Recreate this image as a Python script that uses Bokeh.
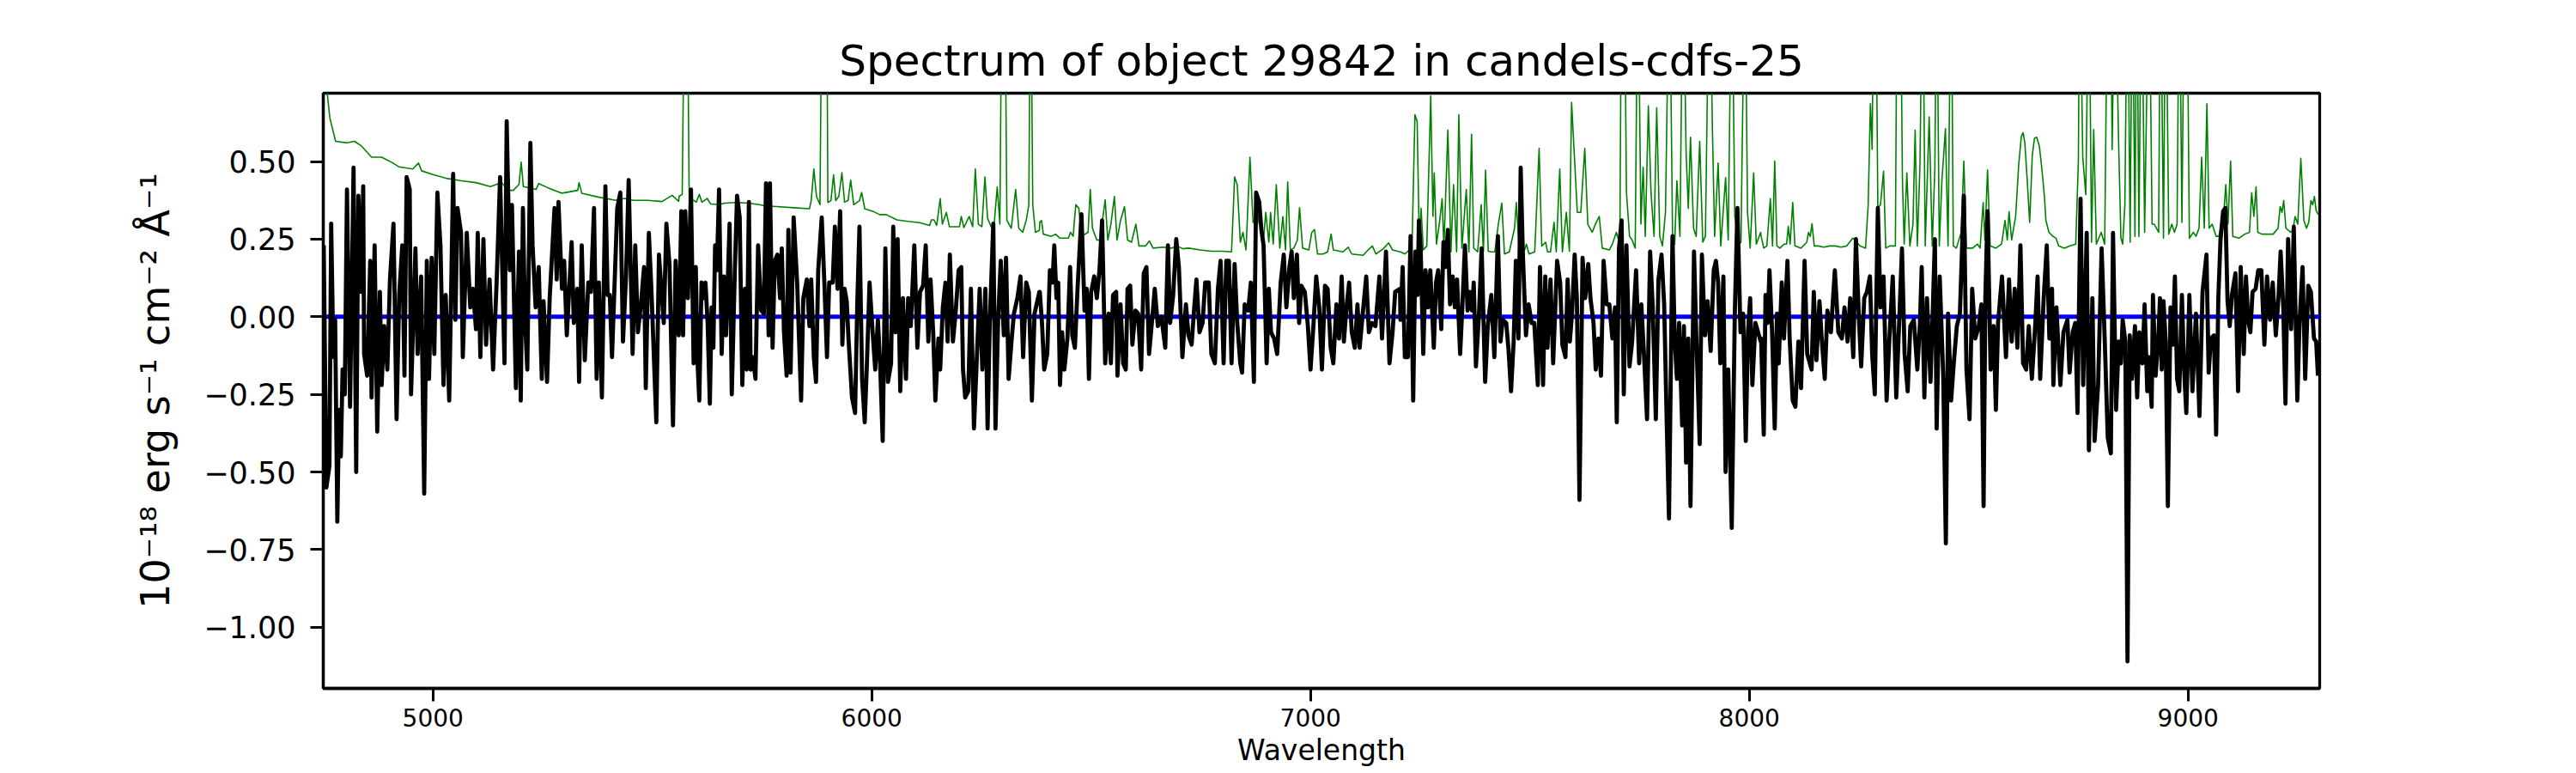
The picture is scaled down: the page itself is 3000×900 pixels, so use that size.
from bokeh.plotting import figure
from bokeh.models import Range1d, FixedTicker, CustomJSTickFormatter, Span
from bokeh.embed import file_html
from bokeh.resources import INLINE

# ---------------- data ----------------
title_text = "Spectrum of object 29842 in candels-cdfs-25"
x_label = "Wavelength"
y_label = "10\u207b\u00b9\u2078 erg s\u207b\u00b9 cm\u207b\u00b2 \u00c5\u207b\u00b9"
x_ticks = [5000, 6000, 7000, 8000, 9000]
y_ticks = [-1.0, -0.75, -0.5, -0.25, 0.0, 0.25, 0.5]
x_limits = [4750, 9300]
y_limits = [-1.197, 0.72]
zero_level = 0.0

# flux (black)
flux_wave_1 = [4751,4757,4764,4768,4773,4777,4782,4786,4790,4794,
    4799,4804,4811,4819,4825,4830,4836,4841,4843,4850,
    4857,4860,4867,4873,4879,4883,4889,4896,4902,4910,
    4917,4923,4930,4935,4940,4947,4950,4960,4965,4973,
    4980,4986,4991,4997,5003,5010,5017,5024,5029,5037,
    5046,5051,5056,5064,5068,5077,5085,5091,5098,5102,
    5108,5115,5121,5129,5137,5145,5153,5163,5168,5175,
    5180,5189,5196,5200,5205,5210,5215,5222,5227,5234,
    5241,5248,5252,5260,5266,5277,5282,5286,5294,5299,
    5305,5316,5321,5329,5333,5339,5346,5354,5360,5367,
    5373,5378,5385,5393,5398,5403,5408,5420,5427,5433,
    5440,5446,5455,5461,5467,5474,5481,5485,5492,5498,
    5509,5515,5521,5526,5532,5539,5547,5553,5560]
flux_1 = [0.23,-0.55,-0.48,0.30,-0.13,-0.01,-0.66,-0.30,-0.45,-0.17,
    -0.25,0.41,-0.29,0.48,-0.50,0.39,0.08,0.42,-0.12,-0.19,
    0.18,-0.26,0.23,-0.37,0.08,-0.22,-0.03,-0.17,0.12,0.30,
    -0.33,0.07,0.23,-0.19,0.45,0.41,-0.25,0.22,-0.12,0.13,
    -0.57,0.18,-0.20,0.19,-0.12,0.40,0.23,-0.22,0.07,-0.27,
    0.46,-0.01,0.35,0.27,-0.13,0.27,0.03,0.09,-0.04,0.27,
    -0.13,0.25,-0.09,0.12,-0.17,0.11,0.45,-0.15,0.63,0.15,
    0.36,-0.23,0.21,-0.27,0.35,-0.02,-0.17,0.56,0.23,0.03,
    0.16,-0.20,0.05,-0.21,0.06,0.35,0.12,0.37,0.09,0.18,
    -0.06,0.24,-0.02,0.09,-0.21,0.23,-0.14,0.11,0.08,0.35,
    -0.20,0.11,-0.26,0.42,0.07,0.07,-0.13,0.35,0.40,-0.08,
    0.13,0.44,-0.12,0.23,-0.05,0.04,0.16,-0.23,0.27,0.08,
    -0.34,0.20,0.08,-0.02,0.30,0.17,-0.35,0.18,-0.06]

flux_wave_2 = [5561,5566,5570,5575,5581,5588,5594,5599,5603,5607,
    5612,5617,5621,5626,5631,5635,5639,5643,5647,5652,
    5658,5663,5668,5676,5681,5688,5693,5699,5705,5711,
    5715,5720,5724,5729,5735,5741,5748,5754,5759,5765,
    5768,5774,5779,5785,5791,5795,5800,5806,5810,5815,
    5822,5830,5839,5844,5852,5858,5862,5868,5873,5878,
    5886,5892,5898,5903,5911,5916,5922,5928,5933,5938,
    5943,5947,5955,5962,5967,5972,5978,5984,5989,5995,
    6002,6008,6014,6019,6025,6031,6037,6044,6049,6054,
    6059,6065,6071,6078,6083,6089,6097,6104,6110,6117,
    6123,6129,6134,6140,6145,6152,6156,6162,6168,6173,
    6178,6185,6191,6198,6204,6208,6213,6220,6226,6233,
    6239,6246,6252,6259,6264,6269,6277,6282,6288,6294,
    6301,6306,6312,6319,6324,6332,6339,6345,6352,6358,
    6365,6371,6382]
flux_2 = [-0.01,0.34,-0.06,0.34,0.06,0.41,-0.15,0.16,-0.15,-0.27,
    0.11,0.06,0.11,-0.02,-0.28,0.03,-0.10,0.23,0.15,0.41,
    -0.12,0.13,-0.06,0.30,-0.25,0.15,0.39,0.32,-0.22,0.09,
    -0.17,0.37,-0.17,-0.13,-0.20,0.23,0.02,0.01,0.43,-0.06,
    0.43,-0.10,0.18,0.20,0.06,0.22,-0.05,-0.19,0.28,-0.18,
    0.32,0.11,-0.27,0.06,0.12,-0.03,0.12,-0.13,-0.21,0.15,
    0.32,0.11,-0.13,0.11,0.11,0.29,0.09,0.34,-0.09,0.09,
    0.05,-0.07,-0.26,-0.31,0.04,0.29,-0.20,-0.34,-0.15,0.11,
    -0.05,-0.17,-0.01,-0.15,-0.40,0.22,-0.21,-0.15,0.29,-0.05,
    0.25,-0.24,0.06,-0.20,0.06,-0.03,0.23,-0.10,0.08,0.10,
    0.23,-0.08,0.12,-0.05,-0.27,-0.07,-0.17,0.03,0.11,-0.08,
    0.20,-0.08,0.01,0.15,0.16,-0.17,-0.26,-0.24,0.09,-0.36,
    -0.15,0.09,-0.17,0.09,-0.36,-0.02,0.30,-0.36,-0.01,0.18,
    -0.06,0.19,-0.20,-0.07,0.01,0.06,0.13,-0.13,0.11,0.08,
    -0.27,0.01,0.08]

flux_wave_3 = [6383,6388,6393,6400,6406,6412,6416,6421,6425,6429,
    6434,6439,6446,6452,6457,6463,6469,6478,6485,6490,
    6495,6500,6507,6513,6519,6525,6532,6540,6545,6550,
    6557,6560,6567,6573,6579,6583,6589,6594,6601,6607,
    6614,6620,6626,6632,6639,6645,6652,6660,6669,6675,
    6680,6687,6694,6700,6708,6716,6722,6729,6735,6740,
    6747,6754,6760,6768,6774,6782,6789,6795,6802,6808,
    6814,6820,6827,6833,6840,6844,6850,6858,6864,6871,
    6876,6883,6888,6893,6900,6905,6910,6917,6924,6932,
    6939,6945,6952,6957,6962,6969,6974,6979,6987,6994,
    7000,7007,7013,7020,7026,7033,7039,7046,7052,7059,
    7065,7071,7076,7082,7088,7094,7101,7107,7112,7119,
    7127,7133,7140,7148,7157,7163,7172,7180,7187,7193,
    7204]
flux_3 = [0.08,-0.02,-0.17,-0.12,0.15,0.11,0.23,0.06,0.11,-0.22,
    -0.05,-0.17,-0.07,0.16,-0.06,-0.10,0.09,0.33,0.02,0.09,
    -0.20,0.08,0.13,0.06,0.15,0.31,-0.15,0.01,-0.15,0.07,
    0.08,-0.19,0.04,-0.15,-0.17,0.09,0.10,-0.09,0.02,0.01,
    -0.17,0.14,0.16,-0.12,-0.01,0.09,-0.03,0.00,-0.10,0.23,
    -0.02,0.07,0.25,0.16,-0.13,0.04,-0.06,-0.09,0.03,0.12,
    -0.05,-0.02,0.11,0.11,-0.12,-0.15,0.09,0.18,-0.15,0.18,
    0.18,-0.15,0.17,-0.02,-0.15,-0.18,0.04,0.02,0.11,-0.21,
    0.40,0.37,0.28,0.23,-0.15,0.09,-0.05,-0.07,-0.12,0.11,
    0.20,0.03,0.16,0.21,0.06,0.20,-0.02,0.10,0.08,-0.03,
    -0.17,-0.02,0.13,0.03,-0.17,0.10,0.09,-0.10,-0.15,0.04,
    -0.07,0.13,-0.08,0.03,0.11,-0.05,-0.10,0.04,-0.10,0.01,
    0.13,-0.05,-0.02,-0.03,0.13,-0.07,0.21,-0.15,-0.05,0.08,
    0.09]

flux_wave_4 = [7205,7210,7215,7222,7228,7234,7239,7244,7247,7251,
    7257,7262,7268,7273,7281,7286,7291,7298,7303,7308,
    7313,7318,7324,7329,7334,7341,7346,7352,7358,7363,
    7368,7372,7377,7384,7390,7398,7404,7412,7419,7427,
    7433,7438,7446,7451,7457,7463,7468,7474,7479,7484,
    7491,7497,7504,7510,7518,7523,7530,7535,7540,7547,
    7553,7562,7569,7574,7581,7586,7591,7596,7602,7607,
    7613,7620,7626,7633,7638,7645,7650,7656,7662,7668,
    7675,7681,7688,7694,7698,7703,7709,7714,7720,7727,
    7733,7742,7749,7754,7761,7767,7774,7780,7787,7793,
    7800,7806,7812,7817,7825,7830,7835,7840,7847,7851,
    7856,7861,7866,7874,7879,7887,7892,7899,7905,7912,
    7919,7924,7929,7934,7941,7946,7952,7960,7967,7973,
    7980,7986,7992,7997,8002,8007,8014,8026]
flux_4 = [-0.01,0.16,-0.13,-0.13,0.26,-0.27,0.21,0.07,0.31,0.22,
    -0.12,0.15,0.03,0.15,-0.10,0.11,0.15,-0.04,0.24,0.16,
    0.28,0.04,0.13,0.03,0.12,-0.12,0.03,0.23,0.02,0.08,
    0.02,0.11,-0.16,0.01,0.22,-0.21,-0.03,0.07,-0.13,0.26,
    -0.08,-0.01,-0.02,-0.10,-0.24,-0.08,0.18,-0.07,0.48,0.20,
    -0.06,0.04,-0.02,-0.02,-0.22,0.16,-0.22,0.13,-0.10,0.12,
    -0.15,0.18,0.11,-0.09,-0.13,0.12,-0.08,0.01,0.20,0.06,
    -0.59,0.19,0.06,0.17,0.06,-0.02,-0.17,-0.07,-0.19,0.18,
    0.04,0.04,-0.07,0.03,-0.34,0.22,0.31,-0.25,0.23,-0.16,
    -0.08,0.15,-0.15,0.04,-0.15,-0.33,0.21,0.03,-0.33,0.12,
    0.20,0.04,-0.35,-0.65,0.26,-0.07,-0.20,-0.02,-0.35,-0.03,
    -0.47,-0.07,-0.61,0.21,-0.05,-0.41,0.20,-0.06,0.05,-0.11,
    0.15,0.18,0.11,-0.15,0.13,-0.50,-0.17,-0.68,0.01,0.35,
    -0.05,0.01,-0.40,-0.05,0.06,-0.22,-0.02,-0.08]

flux_wave_5 = [8027,8033,8037,8042,8046,8052,8058,8063,8067,8074,
    8079,8087,8092,8099,8105,8112,8118,8126,8132,8142,
    8147,8153,8160,8165,8172,8178,8186,8195,8203,8211,
    8217,8224,8230,8237,8243,8250,8255,8262,8268,8275,
    8280,8286,8293,8299,8306,8313,8319,8327,8335,8341,
    8348,8354,8361,8367,8375,8383,8389,8393,8399,8405,
    8413,8418,8423,8427,8434,8442,8448,8453,8460,8466,
    8473,8480,8489,8495,8502,8508,8515,8523,8529,8534,
    8538,8543,8550,8557,8562,8567,8576,8585,8592,8598,
    8605,8611,8618,8624,8631,8637,8644,8652,8657,8663,
    8671,8678,8684,8690,8693,8700,8709,8716,8725,8730,
    8737,8743,8748,8755,8761,8769,8774,8782,8787,8795,
    8803,8810,8817,8824,8829,8836,8842,8847]
flux_5 = [-0.07,-0.38,0.07,-0.02,0.15,-0.05,-0.36,0.01,-0.15,0.11,
    -0.07,0.18,-0.07,-0.27,-0.29,-0.08,-0.23,0.18,-0.12,-0.17,
    0.08,-0.14,0.05,-0.07,-0.20,0.02,-0.05,0.15,-0.05,-0.07,
    0.03,-0.08,0.06,-0.13,0.25,-0.01,-0.16,0.06,0.08,0.13,
    -0.12,-0.25,0.35,0.03,0.13,-0.27,-0.08,0.13,-0.26,-0.04,
    0.22,-0.12,-0.24,-0.03,-0.01,-0.17,-0.02,0.16,-0.26,0.06,
    -0.21,0.01,0.25,-0.36,0.13,-0.19,-0.73,0.01,-0.27,-0.15,
    -0.03,0.01,0.39,-0.17,-0.33,0.09,-0.07,-0.03,0.04,-0.61,
    0.06,0.34,-0.17,-0.03,-0.30,-0.02,0.13,-0.13,0.12,-0.08,
    0.09,-0.10,0.23,-0.15,-0.17,-0.03,-0.20,-0.02,0.13,-0.20,
    0.06,0.23,-0.07,0.09,-0.22,0.03,-0.22,-0.05,-0.01,-0.18,
    -0.05,-0.02,-0.31,0.38,-0.22,0.27,-0.43,0.06,-0.40,-0.22,
    0.22,-0.07,-0.39,-0.44,0.27,-0.30,-0.08,-0.15]

flux_wave_6 = [8851,8857,8862,8867,8872,8879,8884,8889,8896,8901,
    8907,8911,8917,8920,8926,8932,8936,8940,8944,8949,
    8954,8960,8965,8970,8975,8980,8986,8991,8996,9003,
    9010,9018,9026,9033,9042,9047,9052,9059,9064,9069,
    9074,9080,9085,9090,9095,9100,9108,9114,9120,9127,
    9132,9137,9142,9147,9154,9160,9167,9174,9180,9187,
    9193,9200,9206,9211,9217,9222,9228,9235,9241,9249,
    9254,9261,9267,9274,9280,9287,9292,9296]
flux_6 = [-0.01,-0.08,-1.11,-0.06,-0.20,-0.03,-0.26,-0.05,-0.15,0.04,
    -0.24,-0.13,-0.29,0.07,-0.19,-0.08,0.06,-0.17,0.05,-0.08,
    -0.61,0.03,-0.09,0.13,-0.20,-0.24,0.07,-0.17,-0.31,0.07,
    -0.24,0.01,-0.32,0.08,0.20,-0.18,-0.07,-0.06,-0.38,0.06,
    0.25,0.34,0.35,0.05,-0.03,0.07,0.14,-0.24,0.16,-0.12,
    0.13,-0.01,-0.05,0.08,0.09,0.15,0.15,-0.09,0.13,-0.01,
    0.11,-0.06,0.06,0.21,0.03,-0.28,0.25,-0.04,0.29,-0.27,
    -0.02,0.16,-0.20,0.10,0.08,-0.07,-0.08,-0.19]

# error spectrum (green)
err_wave_1 = [4751,4759,4765,4778,4804,4821,4837,4860,4883,4909,
    4922,4954,4967,4974,5000,5033,5065,5098,5131,5157,
    5170,5183,5196,5201,5206,5235,5241,5261,5277,5294,
    5330,5333,5339,5378,5417,5437,5457,5489,5522,5545,
    5560]
err_1 = [0.80,0.72,0.64,0.565,0.56,0.565,0.55,0.514,0.514,0.495,
    0.483,0.476,0.495,0.470,0.458,0.445,0.438,0.432,0.419,0.432,
    0.407,0.407,0.426,0.498,0.419,0.410,0.429,0.416,0.407,0.398,
    0.407,0.432,0.398,0.385,0.375,0.381,0.375,0.375,0.371,0.391,
    0.372]

err_wave_2 = [5561,5568,5574,5579,5584,5594,5600,5607,5613,5625,
    5633,5652,5665,5691,5718,5744,5757,5783,5822,5858,
    5862,5868,5874,5882,5887,5897,5900,5907,5913,5918,
    5925,5932,5938,5946,5952,5959,5972,5977,5984,6005,
    6018,6033,6057,6083,6109,6132,6136,6142,6148,6156,
    6161,6170,6177,6200,6204,6210,6222,6230,6236,6243,
    6251,6258,6264,6272,6279,6286,6292,6297,6303,6308,
    6318,6328,6335,6344,6352,6358,6362,6367,6373,6382]
err_2 = [0.388,0.394,1.2,1.2,0.375,0.375,0.369,0.394,0.369,0.381,
    0.363,0.361,0.366,0.368,0.366,0.361,0.357,0.355,0.351,0.348,
    0.374,0.476,0.388,0.361,1.2,1.2,0.368,0.374,0.457,0.374,
    0.388,0.464,0.369,0.374,0.440,0.361,0.374,0.400,0.348,0.338,
    0.329,0.329,0.312,0.307,0.303,0.294,0.312,0.312,0.294,0.380,
    0.298,0.336,0.290,0.290,0.323,0.287,0.323,0.290,0.476,0.298,
    0.290,0.450,0.317,0.290,0.298,0.418,0.298,1.2,1.2,0.310,
    0.285,0.410,0.285,0.272,0.310,0.361,1.2,0.361,0.272,0.278]

err_wave_3 = [6383,6387,6391,6409,6419,6429,6448,6453,6459,6465,
    6472,6478,6493,6498,6503,6513,6520,6532,6538,6545,
    6553,6559,6567,6576,6583,6592,6602,6609,6624,6633,
    6641,6664,6683,6696,6709,6722,6748,6774,6800,6820,
    6827,6833,6840,6846,6853,6862,6869,6879,6885,6892,
    6898,6905,6909,6915,6922,6930,6937,6943,6948,6954,
    6962,6970,6975,6982,6996,7003,7009,7016,7029,7039,
    7047,7052,7074,7086,7094,7120,7127,7141,7149,7166,
    7178,7187,7204]
err_3 = [0.304,0.310,0.266,0.259,0.266,0.253,0.253,0.272,0.259,0.361,
    0.349,0.259,0.272,0.410,0.285,0.247,0.247,0.377,0.247,0.298,
    0.387,0.247,0.310,0.355,0.247,0.240,0.298,0.228,0.228,0.244,
    0.221,0.224,0.221,0.228,0.219,0.221,0.215,0.211,0.211,0.209,
    0.450,0.425,0.240,0.272,0.215,0.514,0.304,0.298,0.349,0.234,
    0.336,0.240,0.336,0.234,0.425,0.221,0.323,0.215,0.434,0.215,
    0.221,0.247,0.351,0.221,0.215,0.272,0.281,0.202,0.202,0.209,
    0.266,0.215,0.209,0.224,0.202,0.198,0.209,0.228,0.202,0.219,
    0.238,0.215,0.209]

err_wave_4 = [7205,7215,7225,7231,7238,7243,7248,7252,7257,7265,
    7274,7279,7282,7287,7294,7300,7304,7313,7320,7326,
    7333,7338,7345,7355,7361,7367,7372,7381,7389,7394,
    7399,7405,7411,7420,7428,7436,7442,7453,7465,7469,
    7476,7488,7492,7498,7511,7521,7527,7536,7540,7547,
    7555,7560,7568,7574,7583,7590,7595,7602,7608,7616,
    7625,7632,7642,7651,7658,7665,7681,7688,7697,7705,
    7709,7715,7720,7727,7733,7740,7746,7753,7758,7763,
    7770,7776,7783,7789,7796,7802,7809,7818,7825,7830,
    7835,7842,7849,7856,7861,7866,7873,7879,7887,7894,
    7900,7909,7916,7921,7929,7935,7946,7952,7960,7967,
    7975,7981,7990,7996,8002,8010,8016,8026]
err_4 = [0.209,0.202,0.215,0.209,0.651,0.629,0.234,0.349,0.215,0.228,
    0.711,0.323,0.463,0.234,0.304,0.380,0.221,0.601,0.209,0.425,
    0.209,0.651,0.221,0.410,0.209,0.588,0.221,0.209,0.361,0.209,
    0.472,0.211,0.209,0.209,0.298,0.366,0.202,0.209,0.285,0.368,
    0.209,0.215,0.234,0.202,0.209,0.542,0.228,0.240,0.209,0.209,
    0.304,0.209,0.476,0.209,0.336,0.211,0.690,0.501,0.336,0.336,
    0.542,0.298,0.272,0.304,0.323,0.221,0.215,0.234,0.272,0.234,
    1.2,1.2,0.402,0.259,0.247,0.221,1.2,0.298,0.482,0.259,
    0.679,0.400,0.259,0.673,0.259,0.228,0.336,1.2,0.272,0.234,
    0.438,0.259,1.2,0.527,0.349,0.578,0.285,0.259,0.565,0.240,
    0.259,1.2,0.601,0.259,0.495,0.228,0.448,0.247,1.2,0.323,
    0.234,0.240,1.2,0.336,0.221,0.463,0.234,0.272]

err_wave_5 = [8027,8033,8040,8048,8053,8058,8063,8070,8079,8085,
    8089,8093,8099,8104,8118,8131,8135,8139,8143,8148,
    8157,8170,8183,8196,8209,8222,8236,8242,8252,8265,
    8271,8276,8280,8284,8288,8293,8299,8306,8311,8320,
    8333,8337,8344,8349,8353,8359,8366,8373,8378,8383,
    8389,8395,8401,8410,8417,8423,8427,8433,8439,8447,
    8453,8460,8465,8472,8483,8489,8495,8509,8520,8526,
    8533,8537,8543,8549,8562,8575,8583,8588,8592,8598,
    8607,8614,8620,8624,8628,8633,8639,8645,8650,8655,
    8661,8665,8669,8673,8676,
    8683,8692,8699,8705,8718,8731,8744,8750,8753,8760,
    8767,8774,8780,8785,8791,8802,8810,8817,8823,8827,
    8833,8842,8847]
err_5 = [0.259,0.221,0.228,0.380,0.228,0.501,0.228,0.221,0.234,0.234,
    0.291,0.234,0.368,0.228,0.221,0.240,0.272,0.259,0.300,0.228,
    0.228,0.224,0.228,0.228,0.224,0.228,0.253,0.247,0.228,0.221,
    0.361,0.686,0.539,1.2,1.2,0.349,0.361,0.469,0.221,0.228,
    0.228,1.2,1.2,0.444,0.234,0.463,0.228,0.298,0.601,0.228,
    0.489,1.2,0.228,0.644,0.228,0.482,1.2,0.228,0.438,0.606,
    0.228,1.2,0.228,0.221,0.272,0.501,0.221,0.221,0.234,0.221,
    0.368,0.247,0.473,0.228,0.221,0.234,0.310,0.247,0.338,0.247,
    0.323,0.489,0.580,0.593,0.560,0.450,0.304,0.520,0.575,0.578,
    0.550,0.500,0.444,0.380,0.310,
    0.272,0.259,0.253,0.228,0.221,0.228,0.234,0.501,1.2,0.514,
    0.393,1.2,0.240,0.603,0.234,0.272,0.234,1.2,1.2,0.539,
    1.2,0.546,0.253]

err_wave_6 = [8851,8856,8862,8868,8873,8879,8883,8888,8894,8901,
    8911,8918,8923,8933,8937,8944,8949,8956,8963,8969,
    8975,8980,8986,8992,8997,9003,9012,9018,9025,9031,
    9037,9043,9048,9055,9064,9070,9081,9086,9091,9097,
    9102,9116,9129,9140,9145,9150,9155,9159,9168,9181,
    9194,9205,9210,9214,9218,9223,9234,9239,9244,9250,
    9257,9264,9270,9275,9280,9284,9288,9292,9296]
err_6 = [0.234,0.361,1.2,0.240,1.2,0.259,1.2,0.259,1.2,0.272,
    1.2,0.298,0.298,0.272,1.2,0.253,1.2,0.266,0.298,0.272,
    0.298,1.2,0.304,1.2,1.2,0.253,0.272,0.259,0.285,0.514,
    0.285,0.686,0.285,0.298,0.259,0.259,0.323,0.425,0.298,0.501,
    0.259,0.253,0.266,0.272,0.400,0.323,0.418,0.272,0.266,0.266,
    0.266,0.285,0.355,0.336,0.374,0.285,0.272,0.279,0.323,0.298,
    0.510,0.310,0.285,0.304,0.374,0.361,0.387,0.342,0.330]


def join(waves, vals):
    xs, ys = [], []
    for w, v in zip(waves, vals):
        n = min(len(w), len(v))
        xs += list(w[:n])
        ys += list(v[:n])
    return xs, ys


flux_wave, flux = join([flux_wave_1, flux_wave_2, flux_wave_3, flux_wave_4, flux_wave_5, flux_wave_6],
                       [flux_1, flux_2, flux_3, flux_4, flux_5, flux_6])
err_wave, err = join([err_wave_1, err_wave_2, err_wave_3, err_wave_4, err_wave_5, err_wave_6],
                     [err_1, err_2, err_3, err_4, err_5, err_6])

# ---------------- figure ----------------
FONT = "DejaVu Sans"
W, H = 3000, 900
LEFT, TOP, FW, FH = 376, 108, 2325, 693

p = figure(width=W, height=H, output_backend="svg", toolbar_location=None,
           x_range=Range1d(*x_limits), y_range=Range1d(*y_limits),
           min_border_left=LEFT, min_border_right=W - LEFT - FW,
           min_border_top=TOP, min_border_bottom=H - TOP - FH,
           title=title_text)

p.background_fill_color = "white"
p.border_fill_color = "white"
p.outline_line_color = "black"
p.outline_line_width = 3.3
p.outline_line_alpha = 1.0
p.xgrid.visible = False
p.ygrid.visible = False

p.title.align = "center"
p.title.text_font = FONT
p.title.text_font_size = "50px"
p.title.text_font_style = "normal"
p.title.text_color = "black"
p.title.standoff = 18

for ax in (p.xaxis[0], p.yaxis[0]):
    ax.axis_line_width = 3.3
    ax.axis_line_color = "black"
    ax.major_tick_out = 15
    ax.major_tick_in = 0
    ax.major_tick_line_width = 3
    ax.major_tick_line_color = "black"
    ax.minor_tick_out = 0
    ax.minor_tick_in = 0
    ax.major_label_text_font = FONT
    ax.major_label_text_color = "black"
    ax.axis_label_text_font = FONT
    ax.axis_label_text_font_style = "normal"
    ax.axis_label_text_color = "black"

p.xaxis.ticker = FixedTicker(ticks=x_ticks)
p.xaxis.formatter = CustomJSTickFormatter(code="return tick.toFixed(0);")
p.xaxis.major_label_text_font_size = "28px"
p.xaxis.major_label_standoff = 8
p.xaxis.axis_label = x_label
p.xaxis.axis_label_text_font_size = "33px"
p.xaxis.axis_label_standoff = 5

p.yaxis.ticker = FixedTicker(ticks=y_ticks)
p.yaxis.formatter = CustomJSTickFormatter(
    code="return (tick < -1e-9 ? '\\u2212' : '') + Math.abs(tick).toFixed(2);")
p.yaxis.major_label_text_font_size = "35px"
p.yaxis.major_label_standoff = 17
p.yaxis.axis_label = y_label
p.yaxis.axis_label_text_font_size = "46px"
p.yaxis.axis_label_standoff = 26

# zero level (blue), drawn beneath the spectra
p.add_layout(Span(location=zero_level, dimension="width", line_color="#0000ff",
                  line_width=5, level="underlay"))

# error spectrum (green) and flux (black)
p.line(err_wave, err, line_color="#008000", line_width=1.6, line_join="round")
p.line(flux_wave, flux, line_color="black", line_width=4.8, line_join="round")

with open("out.html", "w", encoding="utf-8") as f:
    f.write(file_html(p, INLINE))
